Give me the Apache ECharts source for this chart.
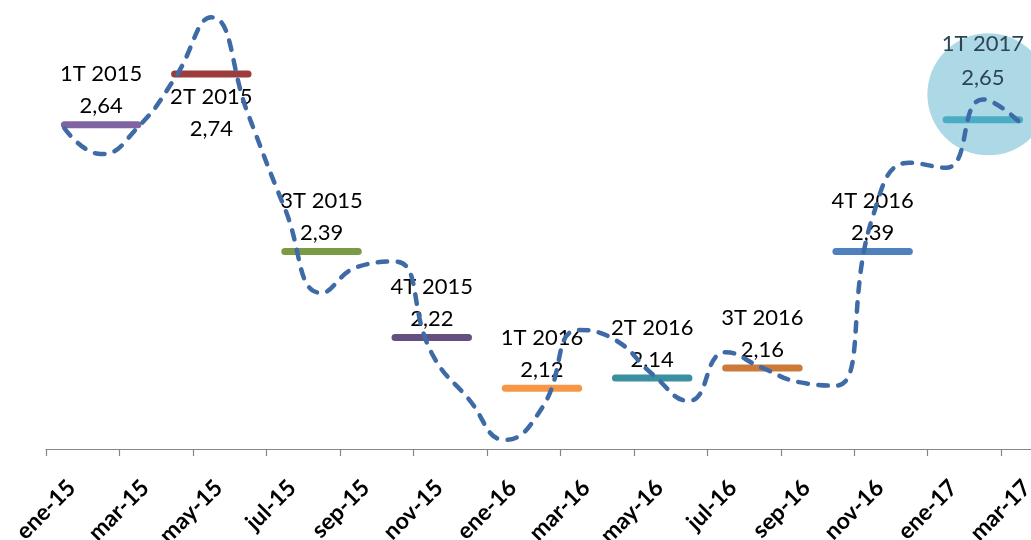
<!DOCTYPE html>
<html><head><meta charset="utf-8">
<script src="https://cdn.jsdelivr.net/npm/echarts@6/dist/echarts.min.js"></script>
<style>html,body{margin:0;padding:0;background:#fff}#c{width:1031px;height:540px}</style>
</head><body><div id="c"></div>
<script>
// ---- data ----
const months = ['ene-15','feb-15','mar-15','abr-15','may-15','jun-15','jul-15','ago-15','sep-15','oct-15','nov-15','dic-15',
                'ene-16','feb-16','mar-16','abr-16','may-16','jun-16','jul-16','ago-16','sep-16','oct-16','nov-16','dic-16',
                'ene-17','feb-17','mar-17'];
const monthlyValues = [2.633,2.582,2.635,2.731,2.852,2.661,2.475,2.308,2.36,2.37,2.189,2.099,
                       2.018,2.081,2.235,2.215,2.148,2.095,2.191,2.160,2.132,2.125,2.458,2.565,
                       2.555,2.690,2.645];
const quarterNames = ['1T 2015','2T 2015','3T 2015','4T 2015','1T 2016','2T 2016','3T 2016','4T 2016','1T 2017'];
const quarterValues = [2.64,2.74,2.39,2.22,2.12,2.14,2.16,2.39,2.65];
const highlightPoint = [25.65, 2.70];

// ---- styles ----
const quarterColors = ['#8064a2','#9c3d3b','#7a9a44','#654f80','#f79646','#3a8fa0','#cb7a3a','#4f81bd','#4bacc6'];
const labelShift = 0.7;

const fmt = v => v.toFixed(2).replace('.', ',');

const quarterSeries = quarterNames.map((name, q) => {
  const v = quarterValues[q];
  const start = 3 * q + 0.5;
  const below = q === 1;
  const hl = q === 8;
  return {
    type: 'line', z: 3, silent: true, animation: false,
    symbol: 'circle', symbolSize: 1, showSymbol: true,
    itemStyle: { color: quarterColors[q] },
    lineStyle: { color: quarterColors[q], width: 7, cap: 'round' },
    emphasis: { disabled: true },
    data: [
      { value: [start, v], label: { show: false } },
      { value: [start + 1, v], label: {
          show: true,
          position: below ? 'bottom' : 'top',
          distance: below ? 6 : (hl ? 24 : 2),
          formatter: name + '\n' + fmt(v),
          fontFamily: 'Lato', fontSize: 22, lineHeight: hl ? 34 : 32,
          color: hl ? '#2b4652' : '#000', align: 'center'
      } },
      { value: [start + 2, v], label: { show: false } }
    ]
  };
});

const chart = echarts.init(document.getElementById('c'), null, { renderer: 'canvas' });
chart.setOption({
  animation: false,
  grid: { left: 46, right: -43.7, top: -7, bottom: 91, containLabel: false, outerBoundsMode: 'none' },
  xAxis: [
    { type: 'value', min: 0, max: 28, interval: 2, position: 'bottom',
      axisLine: { onZero: false, lineStyle: { color: '#868686', width: 1.2 } },
      axisTick: { show: true, length: 7, lineStyle: { color: '#868686', width: 1.2 } },
      axisLabel: { show: false }, splitLine: { show: false } },
    { type: 'value', min: -labelShift, max: 28 - labelShift, minInterval: 2, maxInterval: 2, splitNumber: 14,
      position: 'bottom',
      axisLine: { show: false }, axisTick: { show: false }, splitLine: { show: false },
      axisLabel: {
        rotate: 45, margin: 35, fontFamily: 'Lato', fontWeight: 'bold', fontSize: 23, color: '#000',
        formatter: v => {
          const r = Math.round(v);
          return (Math.abs(v - r) < 1e-6 && r % 2 === 0 && months[r]) ? months[r] : '';
        }
      } }
  ],
  yAxis: { type: 'value', min: 2, max: 2.9, show: false },
  series: [
    { type: 'scatter', z: 1, silent: true, symbol: 'circle', symbolSize: 122,
      itemStyle: { color: '#add8e6', opacity: 1 }, emphasis: { disabled: true },
      data: [highlightPoint] },
    ...quarterSeries,
    { type: 'line', z: 5, silent: true, smooth: 0.5, symbol: 'none',
      lineStyle: { color: '#3e6aa6', width: 4.5, type: [9.5, 10.5], cap: 'round' },
      emphasis: { disabled: true },
      data: monthlyValues.map((v, i) => [i + 0.5, v]) }
  ]
});
</script>
</body></html>
